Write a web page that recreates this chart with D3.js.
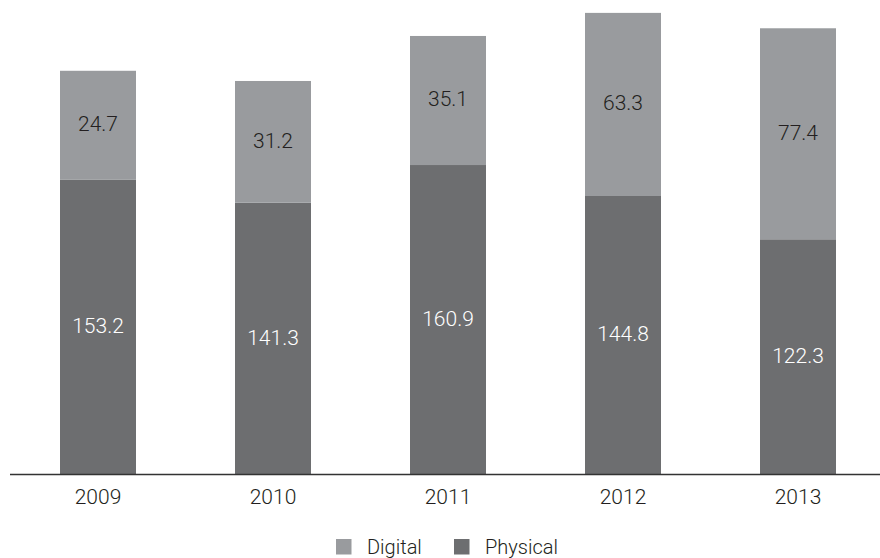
<!DOCTYPE html>
<html>
<head>
<meta charset="utf-8">
<script src="https://cdn.jsdelivr.net/npm/d3@7"></script>
<style>
  html, body { margin: 0; padding: 0; background: #fff; }
  svg { display: block; }
  text { font-family: Roboto, "Open Sans", sans-serif; font-weight: 300; }
</style>
</head>
<body>
<svg id="chart" width="880" height="558"></svg>
<script>
// ---- data ----
const years = ["2009", "2010", "2011", "2012", "2013"];
const physical = [153.2, 141.3, 160.9, 144.8, 122.3];
const digitalLabels = [24.7, 31.2, 35.1, 63.3, 77.4];
// digital segment heights as drawn in the picture (not proportional to labels)
const digitalDrawn = [56.7, 63.3, 67.1, 95.2, 109.7];
const seriesNames = ["Digital", "Physical"];
const seriesColors = ["#999b9e", "#6d6e70"];

// ---- layout ----
const svg = d3.select("#chart");
const baseY = 474.5;
const pIn = 1 - 76 / 175;
const x = d3.scaleBand().domain(years).range([10.5, 885.5]).paddingInner(pIn).paddingOuter(pIn / 2);
const y = d3.scaleLinear().domain([0, 246.7]).range([baseY, 0]);

const rows = years.map((yr, i) => ({ year: yr, Physical: physical[i], Digital: digitalDrawn[i], dLabel: digitalLabels[i], pLabel: physical[i] }));
const stack = d3.stack().keys(["Physical", "Digital"])(rows);

const color = d3.scaleOrdinal().domain(seriesNames).range(seriesColors);

const g = svg.append("g");
g.selectAll("g.layer").data(stack).join("g")
  .attr("class", "layer")
  .attr("fill", d => color(d.key))
  .selectAll("rect").data(d => d).join("rect")
  .attr("x", d => x(d.data.year))
  .attr("width", x.bandwidth())
  .attr("y", d => y(d[1]))
  .attr("height", d => y(d[0]) - y(d[1]));

// value labels
stack.forEach(layer => {
  g.selectAll(null).data(layer).join("text")
    .attr("x", d => x(d.data.year) + x.bandwidth() / 2)
    .attr("y", d => (y(d[0]) + y(d[1])) / 2 - 1)
    .attr("text-anchor", "middle")
    .attr("dominant-baseline", "central")
    .attr("font-size", 21)
    .attr("fill", layer.key === "Physical" ? "#ffffff" : "#231f20")
    .text(d => (layer.key === "Physical" ? d.data.pLabel : d.data.dLabel).toFixed(1));
});

// axis
const axis = d3.axisBottom(x).tickSize(0).tickPadding(15);
const ax = svg.append("g").attr("transform", `translate(0,${baseY})`).call(axis);
ax.select(".domain").remove();
ax.selectAll("text").attr("font-size", 21).attr("fill", "#231f20")
  .attr("font-family", "Roboto, 'Open Sans', sans-serif").attr("font-weight", 300)
  .attr("dy", "0.71em");
svg.append("line").attr("x1", 10).attr("x2", 880).attr("y1", baseY).attr("y2", baseY)
  .attr("stroke", "#333333").attr("stroke-width", 1.5);

// legend
const legendX = [336, 454];
const lg = svg.append("g");
seriesNames.forEach((name, i) => {
  lg.append("rect").attr("x", legendX[i]).attr("y", 539).attr("width", 15.5).attr("height", 15.5)
    .attr("fill", color(name));
  lg.append("text").attr("x", legendX[i] + 31).attr("y", 554.3)
    .attr("font-size", 20).attr("fill", "#231f20").text(name);
});
</script>
</body>
</html>
